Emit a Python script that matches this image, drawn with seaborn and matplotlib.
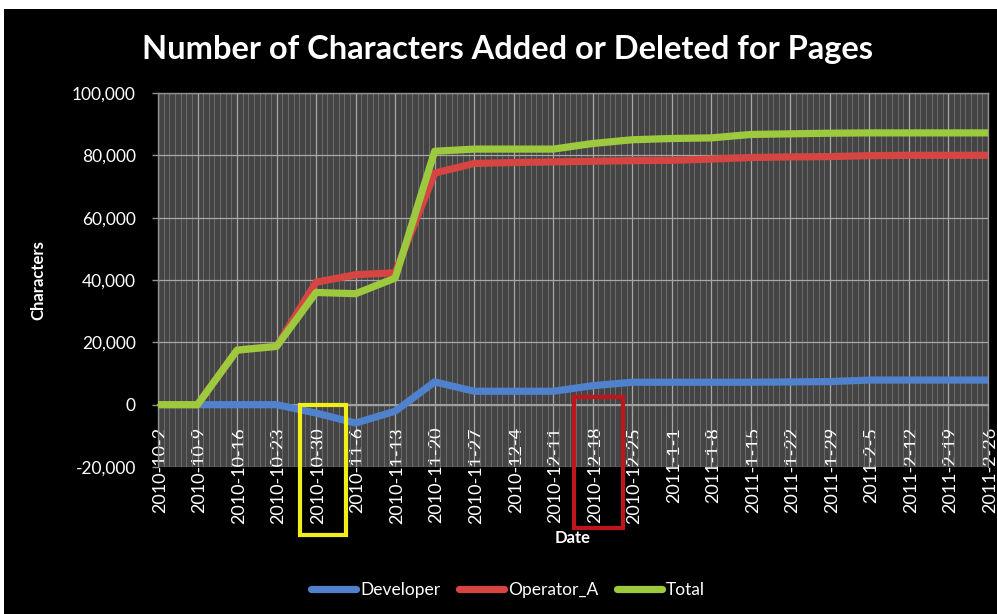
import matplotlib
matplotlib.use("Agg")
import matplotlib.pyplot as plt
import matplotlib.dates as mdates
import matplotlib.transforms as mtransforms
from matplotlib.patches import Rectangle
from matplotlib.ticker import FuncFormatter, MultipleLocator
import seaborn as sns
import pandas as pd
import numpy as np

dates = ["2010-10-02", "2010-10-09", "2010-10-16", "2010-10-23", "2010-10-30",
         "2010-11-06", "2010-11-13", "2010-11-20", "2010-11-27", "2010-12-04",
         "2010-12-11", "2010-12-18", "2010-12-25", "2011-01-01", "2011-01-08",
         "2011-01-15", "2011-01-22", "2011-01-29", "2011-02-05", "2011-02-12",
         "2011-02-19", "2011-02-26"]
developer = [0, 0, 0, 0, -2700, -5900, -2100, 7300, 4300, 4300,
             4300, 6100, 7200, 7200, 7200, 7200, 7300, 7400, 7900, 7900,
             7900, 7900]
operator_a = [0, 0, 17500, 18700, 39300, 41700, 42300, 74300, 77400, 77700,
              77900, 78100, 78300, 78400, 78800, 79300, 79500, 79600, 79900, 80000,
              80000, 80000]
total = [0, 0, 17500, 18700, 36000, 35600, 40600, 81300, 82000, 82000,
         82000, 83800, 85000, 85400, 85600, 86700, 86900, 87100, 87200, 87200,
         87200, 87200]
series_names = ["Developer", "Operator_A", "Total"]
colors = ["#4F81CC", "#D64541", "#9CC93D"]
highlight_dates = ["2010-10-30", "2010-12-18"]
highlight_colors = ["#F2EE18", "#C0151B"]

dt = pd.to_datetime(dates)
df = pd.DataFrame({"Date": list(dt) * 3,
                   "Characters": developer + operator_a + total,
                   "Series": sum([[n] * len(dt) for n in series_names], [])})

sns.set_style("dark")
plt.rcParams["font.family"] = ["Lato", "DejaVu Sans"]

fig = plt.figure(figsize=(9.97, 6.14), dpi=100)
fig.patch.set_facecolor("white")
fig.patches.append(Rectangle((4 / 997, 0), 1, 1 - 9 / 614, transform=fig.transFigure,
                             facecolor="black", edgecolor="none", zorder=-10))
ax = fig.add_axes([158 / 997, 1 - 467 / 614, (988 - 158) / 997, (467 - 93) / 614])
ax.set_facecolor("#444444")

sns.lineplot(data=df, x="Date", y="Characters", hue="Series", palette=colors,
             hue_order=series_names, linewidth=5.2, ax=ax, legend=False,
             solid_capstyle="round", zorder=5)

ax.set_xlim(dt[0], dt[-1])
ax.set_ylim(-20000, 100000)
ax.yaxis.set_major_locator(MultipleLocator(20000))
ax.yaxis.set_major_formatter(FuncFormatter(lambda v, p: f"{int(v):,}"))

ax.xaxis.set_minor_locator(mdates.DayLocator())
ax.set_xticks(dt)
ax.set_xticklabels([f"{d.year}-{d.month}-{d.day}" for d in dt])
ax.spines["bottom"].set_position(("data", 0))
for s in ["top", "right", "left"]:
    ax.spines[s].set_color("#909090")
    ax.spines[s].set_linewidth(1)
ax.spines["bottom"].set_color("#A0A0A0")
ax.spines["bottom"].set_linewidth(1.5)

ax.grid(True, which="major", axis="both", color="#A8A8A8", linewidth=0.9, zorder=1)
ax.grid(True, which="minor", axis="x", color="#6C6C6C", linewidth=0.7, zorder=1)
ax.set_axisbelow(True)

ax.tick_params(axis="y", colors="white", labelsize=12.5, length=4, width=1,
               left=True, pad=12)
ax.tick_params(axis="y", which="major", color="#909090")
ax.tick_params(axis="x", which="major", length=4, color="#A0A0A0", pad=12,
               bottom=True, labelcolor="white", labelsize=13, labelrotation=90)
ax.tick_params(axis="x", which="minor", length=0)

shift = mtransforms.ScaledTranslation(2 / 100, 0, fig.dpi_scale_trans)
for lbl in ax.get_xticklabels():
    lbl.set_transform(lbl.get_transform() + shift)

ax.set_xlabel("Date", color="white", fontsize=12, fontweight="bold", labelpad=5)
ax.set_ylabel("Characters", color="white", fontsize=12, fontweight="bold")
ax.yaxis.set_label_coords(-0.135, 0.5)

fig.text(508 / 997, 1 - 49 / 614, "Number of Characters Added or Deleted for Pages",
         ha="center", va="center", color="white", fontsize=23.5, fontweight="bold")

# highlight boxes around two tick labels
for hd, hc, (left, right, top, bottom) in zip(
        highlight_dates, highlight_colors,
        [(-2.8, 5.3, 0, -41700), (-3.4, 5.4, 2600, -39500)]):
    d0 = pd.Timestamp(hd) + pd.Timedelta(days=left)
    x0 = mdates.date2num(d0)
    w = right - left
    rect = Rectangle((x0, bottom), w, top - bottom, fill=False, edgecolor=hc,
                     linewidth=3, clip_on=False, zorder=10)
    ax.add_patch(rect)

handles = [plt.Line2D([], [], color=c, linewidth=5.2, solid_capstyle="round")
           for c in colors]
leg = fig.legend(handles, series_names, loc="center", bbox_to_anchor=(508 / 997, 1 - 590 / 614),
                 ncol=3, frameon=False, fontsize=12.5, handlelength=2.6,
                 handletextpad=0.2, columnspacing=1.1)
for t in leg.get_texts():
    t.set_color("white")

fig.savefig("out.png", dpi=100, facecolor=fig.get_facecolor())
